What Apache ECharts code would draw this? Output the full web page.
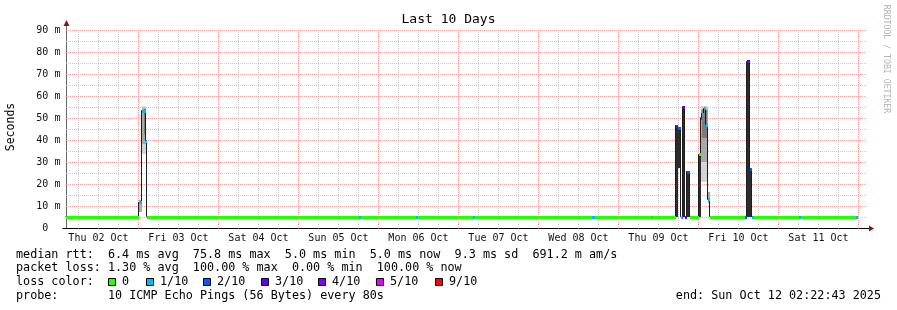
<!DOCTYPE html>
<html><head><meta charset="utf-8">
<script src="https://cdn.jsdelivr.net/npm/echarts@6/dist/echarts.min.js"></script>
<style>html,body{margin:0;padding:0;background:#fff}#c{width:897px;height:310px}</style>
</head><body><div id="c"></div>
<script>
// time unit: hours since Thu 02 Oct 2025 00:00 ; end = Sun Oct 12 02:22:43
const viewStart = 2.378, viewEnd = 242.378;
const yMax = 90.909;
const xLabelTimes = [12, 36, 60, 84, 108, 132, 156, 180, 204, 228];
const xLabels = ['Thu 02 Oct','Fri 03 Oct','Sat 04 Oct','Sun 05 Oct','Mon 06 Oct','Tue 07 Oct','Wed 08 Oct','Thu 09 Oct','Fri 10 Oct','Sat 11 Oct'];
const yTickValues = [0, 10, 20, 30, 40, 50, 60, 70, 80, 90];

// median rtt (ms) as step segments: segment i runs medTime[i] .. medTime[i+1]
const medTime = [2.4, 24.1, 25.0, 26.3, 26.6, 90.3, 90.9, 107.4, 108.0, 124.5, 125.0, 160.1, 161.0, 177.8, 178.1,
  185.3, 185.9, 186.7, 187.0, 187.4, 188.0, 188.7, 189.4, 192.2, 192.7, 193.1, 193.7, 194.3, 194.9, 195.5,
  206.0, 206.6, 207.5, 208.0, 208.7, 222.2, 222.8, 239.4, 239.9];
const medValue = [5.0, 11.7, 53.2, 39.7, 5.0, 5.0, 5.0, 5.0, 5.0, 5.0, 5.0, 5.0, 5.0, 5.0, 5.0,
  46.5, 45.5, 5.0, 5.0, 55.1, 5.0, 25.5, 5.0, 33.6, 50.0, 52.0, 54.5, 47.0, 13.0, 5.0,
  5.0, 75.8, 27.0, 5.0, 5.0, 5.0, 5.0, 5.0];
// lost pings out of 10 for each segment
const medLoss = [0, 1, 1, 1, 0, 1, 0, 1, 0, 1, 0, 1, 0, 1, 0,
  3, 2, 0, 2, 3, 3, 2, 0, 0, 2, 1, 1, 1, 1, 0,
  2, 3, 2, 1, 0, 1, 0, 1];

// smoke (ping spread) bands
const smokeStart = [24.1, 25.0, 25.0, 25.6, 185.3, 185.9, 187.4, 188.7, 192.2, 192.7, 192.7, 193.0, 194.9, 206.6, 207.5];
const smokeEnd   = [25.0, 26.3, 26.3, 26.3, 185.9, 186.7, 188.0, 189.4, 192.7, 194.9, 194.9, 194.6, 195.5, 207.5, 208.0];
const smokeLow   = [7.5, 34.0, 38.5, 43.0, 5.0, 27.5, 5.0, 5.0, 5.0, 21.0, 30.0, 41.0, 11.5, 5.0, 5.0];
const smokeHigh  = [13.0, 55.5, 54.8, 54.5, 47.0, 46.0, 55.5, 25.8, 33.6, 55.5, 54.5, 54.0, 16.5, 76.0, 27.0];
const smokeDensity = [1, 0, 1, 2, 3, 3, 3, 3, 3, 0, 1, 2, 1, 3, 3];

const lossKeys = [0, 1, 2, 3, 4, 5, 9];
const lossLabels = ['0', '1/10', '2/10', '3/10', '4/10', '5/10', '9/10'];

const legendLines = [
  'median rtt:  6.4 ms avg  75.8 ms max  5.0 ms min  5.0 ms now  9.3 ms sd  691.2 m am/s',
  'packet loss: 1.30 % avg  100.00 % max  0.00 % min  100.00 % now',
  'loss color:',
  'probe:       10 ICMP Echo Pings (56 Bytes) every 80s'
];
const endText = 'end: Sun Oct 12 02:22:43 2025';

// ---- styles ----
const MONO = '"DejaVu Sans Mono", monospace';
const lossColor = {0:'#26ff00', 1:'#00b8ff', 2:'#0059ff', 3:'#5e00ff', 4:'#7e00ff', 5:'#dd00ff', 9:'#ff0000'};
const shadeColor = ['#d4d4d4', '#a9a9a9', '#7c7c7c', '#2c2c2c'];
const GRID_RED = '#f2a0a0', GRID_GREY = '#c8c8c8';

const chart = echarts.init(document.getElementById('c'), null, {renderer: 'canvas'});

const gridHours = [];
for (let h = Math.ceil(viewStart / 6) * 6; h <= viewEnd; h += 6) gridHours.push(h);
const gridMs = [];
for (let v = 5; v < yMax; v += 5) gridMs.push(v);

const markData = [];
gridHours.forEach(h => markData.push({xAxis: h, lineStyle: {color: h % 24 === 0 ? GRID_RED : GRID_GREY, type: [1, 1], dashOffset: 0.5, width: 1}}));
gridMs.forEach(v => markData.push({yAxis: v, lineStyle: {color: v % 10 === 0 ? GRID_RED : GRID_GREY, type: [1, 1], dashOffset: 0.4, width: 1}}));

const smokeData = smokeStart.map((s, i) => [s, smokeEnd[i], smokeLow[i], smokeHigh[i], smokeDensity[i]]);
const bandData = medValue.map((v, i) => [medTime[i], medTime[i + 1], v, medLoss[i]]);
const lineData = medValue.map((v, i) => [medTime[i], medTime[i + 1], v, i > 0 ? medValue[i - 1] : v]);

const legendY = [254.5, 268.3, 282.3, 296.3];
const boxX = [108, 146, 203, 261, 318, 376, 435];

const graphics = [];
graphics.push({type: 'text', x: 448.5, y: 19.5, style: {text: 'Last 10 Days', font: '13px ' + MONO, fill: '#000', align: 'center', verticalAlign: 'middle'}});
graphics.push({type: 'text', x: 11, y: 127, rotation: Math.PI / 2, style: {text: 'Seconds', font: '11.5px ' + MONO, fill: '#000', align: 'center', verticalAlign: 'middle'}});
graphics.push({type: 'text', x: 886.5, y: 59, rotation: -Math.PI / 2, style: {text: 'RRDTOOL / TOBI OETIKER', font: '8.2px ' + MONO, fill: '#b4b4b4', align: 'center', verticalAlign: 'middle'}});
legendLines.forEach((t, i) => graphics.push({type: 'text', x: 16, y: legendY[i], style: {text: t, font: '11.75px ' + MONO, fill: '#000', align: 'left', verticalAlign: 'middle'}}));
graphics.push({type: 'text', x: 881, y: legendY[3], style: {text: endText, font: '11.75px ' + MONO, fill: '#000', align: 'right', verticalAlign: 'middle'}});
lossKeys.forEach((k, i) => {
  graphics.push({type: 'rect', shape: {x: boxX[i] + 0.5, y: 278.5, width: 7, height: 7}, style: {fill: lossColor[k], stroke: '#000', lineWidth: 1}});
  graphics.push({type: 'text', x: boxX[i] + 14, y: legendY[2], style: {text: lossLabels[i], font: '11.75px ' + MONO, fill: '#000', align: 'left', verticalAlign: 'middle'}});
});

const option = {
  animation: false,
  backgroundColor: '#ffffff',
  grid: {left: 66.4, top: 28.5, width: 800, height: 200, containLabel: false, outerBoundsMode: 'none'},
  xAxis: {
    type: 'value', min: viewStart, max: viewEnd,
    axisLine: {show: true, lineStyle: {color: '#000', width: 1}},
    axisTick: {show: false}, splitLine: {show: false}, minorSplitLine: {show: false},
    axisLabel: {
      customValues: xLabelTimes,
      formatter: v => { const i = xLabelTimes.findIndex(t => Math.abs(t - v) < 0.01); return i >= 0 ? xLabels[i] : ''; },
      fontFamily: MONO, fontSize: 10, color: '#111', margin: 5, hideOverlap: false
    }
  },
  yAxis: {
    type: 'value', min: 0, max: yMax,
    axisLine: {show: true, lineStyle: {color: '#666', width: 1}},
    axisTick: {show: false}, splitLine: {show: false},
    axisLabel: {
      customValues: yTickValues,
      formatter: v => (Math.abs(v) < 1e-6 ? '0  ' : Math.round(v) + ' m'),
      fontFamily: MONO, fontSize: 10, color: '#111', margin: 6
    }
  },
  graphic: graphics,
  series: [
    {
      type: 'line', data: [], z: 1, silent: true,
      markLine: {z: 1, silent: true, symbol: ['none', 'none'], label: {show: false}, emphasis: {disabled: true}, animation: false, data: markData}
    },
    {
      type: 'custom', z: 2, silent: true, data: smokeData, encode: {x: [0, 1], y: [2, 3]},
      renderItem: (params, api) => {
        const p0 = api.coord([api.value(0), api.value(3)]);
        const p1 = api.coord([api.value(1), api.value(2)]);
        const x0 = Math.round(p0[0]), x1 = Math.round(p1[0]);
        const y0 = Math.round(p0[1]), y1 = Math.round(p1[1]);
        return {type: 'rect', shape: {x: x0, y: y0, width: Math.max(1, x1 - x0), height: y1 - y0}, style: {fill: shadeColor[api.value(4)]}};
      }
    },
    {
      type: 'custom', z: 3, silent: true, data: lineData, encode: {x: [0, 1], y: [2, 3]},
      renderItem: (params, api) => {
        const p0 = api.coord([api.value(0), api.value(2)]);
        const p1 = api.coord([api.value(1), api.value(2)]);
        const pp = api.coord([api.value(0), api.value(3)]);
        const x0 = Math.round(p0[0]) - 0.5, x1 = Math.round(p1[0]) - 0.5;
        const y = Math.round(p0[1]) - 0.5, yp = Math.round(pp[1]) - 0.5;
        const st = {stroke: '#1c1c1c', lineWidth: 1};
        return {type: 'group', children: [
          {type: 'line', shape: {x1: x0, y1: yp, x2: x0, y2: y}, style: st},
          {type: 'line', shape: {x1: x0, y1: y, x2: x1, y2: y}, style: st}
        ]};
      }
    },
    {
      type: 'custom', z: 4, silent: true, data: bandData, encode: {x: [0, 1], y: 2},
      renderItem: (params, api) => {
        const p0 = api.coord([api.value(0), api.value(2)]);
        const p1 = api.coord([api.value(1), api.value(2)]);
        const x0 = Math.round(p0[0]), x1 = Math.round(p1[0]);
        const yc = Math.round(p0[1] - 0.5);
        return {type: 'rect', shape: {x: x0, y: yc - 1, width: Math.max(1, x1 - x0), height: 3}, style: {fill: lossColor[api.value(3)]}};
      }
    }
  ]
};
chart.setOption(option);

// axis arrows
const o = chart.convertToPixel({gridIndex: 0}, [viewStart, 0]);
const e = chart.convertToPixel({gridIndex: 0}, [viewEnd, yMax]);
const ax = Math.round(o[0]) + 0.5, ay = Math.round(o[1]) - 0.5, ty = Math.round(e[1]), rx = Math.round(e[0]);
const ARROW = '#8a1414';
chart.setOption({graphic: graphics.concat([
  {type: 'line', shape: {x1: ax, y1: ty, x2: ax, y2: ty - 3}, style: {stroke: '#666', lineWidth: 1}},
  {type: 'polygon', shape: {points: [[ax - 3, ty - 3], [ax + 3, ty - 3], [ax, ty - 9]]}, style: {fill: ARROW}},
  {type: 'line', shape: {x1: ax - 4, y1: ay, x2: ax, y2: ay}, style: {stroke: '#000', lineWidth: 1}},
  {type: 'line', shape: {x1: rx, y1: ay, x2: rx + 3, y2: ay}, style: {stroke: '#000', lineWidth: 1}},
  {type: 'polygon', shape: {points: [[rx + 3, ay - 3], [rx + 3, ay + 3], [rx + 8, ay]]}, style: {fill: ARROW}}
])});
</script>
</body></html>
